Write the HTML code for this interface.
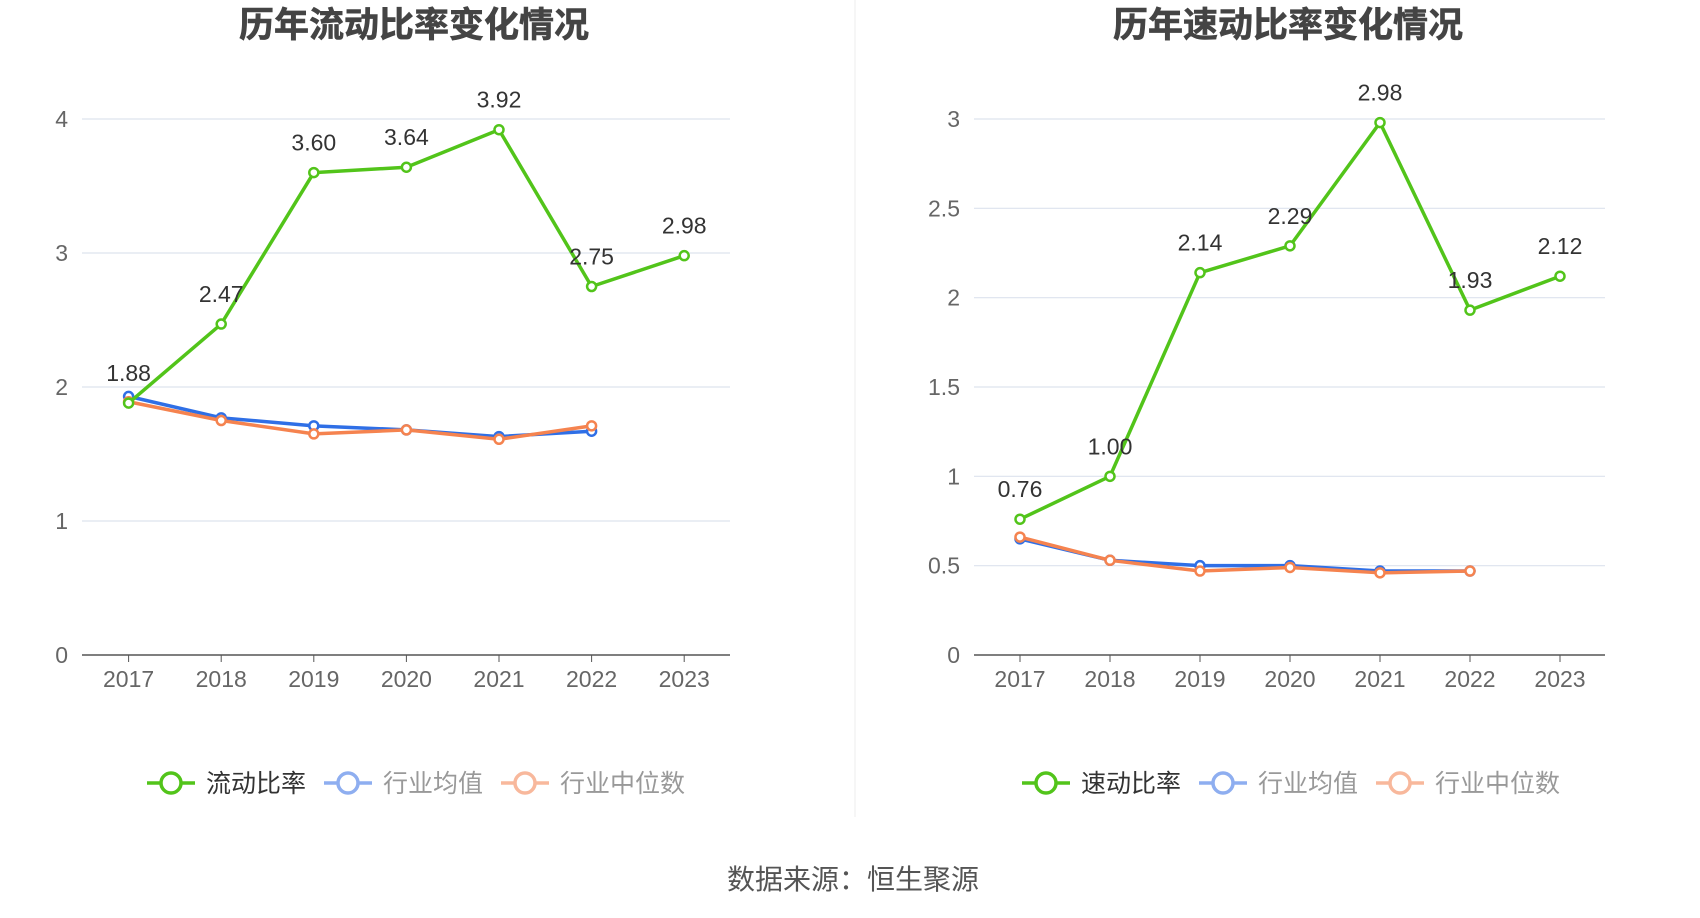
<!DOCTYPE html>
<html><head><meta charset="utf-8">
<style>
html,body{margin:0;padding:0;background:#fff;width:1700px;height:918px;overflow:hidden}
svg{display:block;font-family:"Liberation Sans","Noto Sans CJK SC",sans-serif}
</style></head>
<body>
<svg id="svg" width="1700" height="918" viewBox="0 0 1700 918">
<line x1="855" y1="0" x2="855" y2="817" stroke="#eee" stroke-width="1"/>
<text x="853" y="889" text-anchor="middle" font-size="28" fill="#555">数据来源：恒生聚源</text>
</svg>
<script>
const years=["2017","2018","2019","2020","2021","2022","2023"];
const currentRatio=[1.88,2.47,3.60,3.64,3.92,2.75,2.98];
const currentAvg=[1.93,1.77,1.71,1.68,1.63,1.67];
const currentMedian=[1.89,1.75,1.65,1.68,1.61,1.71];
const quickRatio=[0.76,1.00,2.14,2.29,2.98,1.93,2.12];
const quickAvg=[0.65,0.53,0.50,0.50,0.47,0.47];
const quickMedian=[0.66,0.53,0.47,0.49,0.46,0.47];
const leftTicks=[0,1,2,3,4];
const rightTicks=[0,0.5,1,1.5,2,2.5,3];
const rightTickLabels=["0","0.5","1","1.5","2","2.5","3"];

const NS="http://www.w3.org/2000/svg";
const svg=document.getElementById('svg');
function mk(tag,attrs,parent,text){const e=document.createElementNS(NS,tag);for(const k in attrs)e.setAttribute(k,attrs[k]);if(text!==undefined)e.textContent=text;(parent||svg).appendChild(e);return e;}

function chart(cfg){
  const g=mk('g',{});
  
  
  const yMax=cfg.ticks[cfg.ticks.length-1];
  const y=v=>cfg.y0-(v/yMax)*(cfg.y0-cfg.yTop);
  const x=i=>cfg.x0+i*cfg.step;
  const t=mk('text',{x:cfg.cx,y:37,'text-anchor':'middle','font-size':35,'font-weight':'bold',fill:'#444',stroke:'#444','stroke-width':0.6},g,cfg.title);
  
  
  cfg.ticks.forEach((v,i)=>{
    if(v>0){const l=mk('line',{x1:cfg.gx1,x2:cfg.gx2,y1:y(v),y2:y(v),stroke:'#dde3ee','stroke-width':1.2},g);
      
      }
    const tl=mk('text',{x:cfg.gx1-14,y:y(v)+8,'text-anchor':'end','font-size':23,fill:'#666'},g,cfg.labels[i]);
    
    
  });
  const ax=mk('line',{x1:cfg.gx1,x2:cfg.gx2,y1:cfg.y0,y2:cfg.y0,stroke:'#555','stroke-width':1.5},g);
  
  
  years.forEach((yr,i)=>{
    mk('line',{x1:x(i),x2:x(i),y1:cfg.y0,y2:cfg.y0+7,stroke:'#555'},g);
    const xl=mk('text',{x:x(i),y:cfg.y0+32,'text-anchor':'middle','font-size':23,fill:'#666'},g,yr);
    
    
  });
  [[cfg.avg,'#2f6fe6','industry-average-line'],[cfg.median,'#f5834f','industry-median-line'],[cfg.main,'#52c41a','main-ratio-line']].forEach(([d,c,n])=>{
    const p=mk('polyline',{points:d.map((v,i)=>x(i)+','+y(v)).join(' '),fill:'none',stroke:c,'stroke-width':3.5,'stroke-linejoin':'round'},g);
    
    
    d.forEach((v,i)=>{const c2=mk('circle',{cx:x(i),cy:y(v),r:4.5,fill:'#fff',stroke:c,'stroke-width':2.5},g);
      
      });
  });
  cfg.main.forEach((v,i)=>{
    const l=mk('text',{x:x(i),y:y(v)-22,'text-anchor':'middle','font-size':23,fill:'#333'},g,v.toFixed(2));
    
    
  });
  const leg=[[cfg.legendMain,'#52c41a','#333'],['行业均值','#8eaef0','#999'],['行业中位数','#f8b89c','#999']];
  let lx=cfg.legX;
  const ly=783;
  leg.forEach(([txt,c,tc],k)=>{
    const lg=mk('g',{},g);
    
    
    mk('line',{x1:lx,x2:lx+48,y1:ly,y2:ly,stroke:c,'stroke-width':3.5},lg);
    mk('circle',{cx:lx+24,cy:ly,r:10,fill:'#fff',stroke:c,'stroke-width':3.5},lg);
    mk('text',{x:lx+59,y:ly+9,'font-size':25,fill:tc},lg,txt);
    lx+=59+txt.length*25+18;
  });
}
chart({name:'current-ratio-chart',title:'历年流动比率变化情况',cx:414,x0:128.6,step:92.6,y0:655,yTop:119,gx1:82,gx2:730,ticks:leftTicks,labels:leftTicks.map(String),main:currentRatio,avg:currentAvg,median:currentMedian,legendMain:'流动比率',legX:147});
chart({name:'quick-ratio-chart',title:'历年速动比率变化情况',cx:1288,x0:1020,step:90.0,y0:655,yTop:119,gx1:974,gx2:1605,ticks:rightTicks,labels:rightTickLabels,main:quickRatio,avg:quickAvg,median:quickMedian,legendMain:'速动比率',legX:1022});
</script>
</body></html>
